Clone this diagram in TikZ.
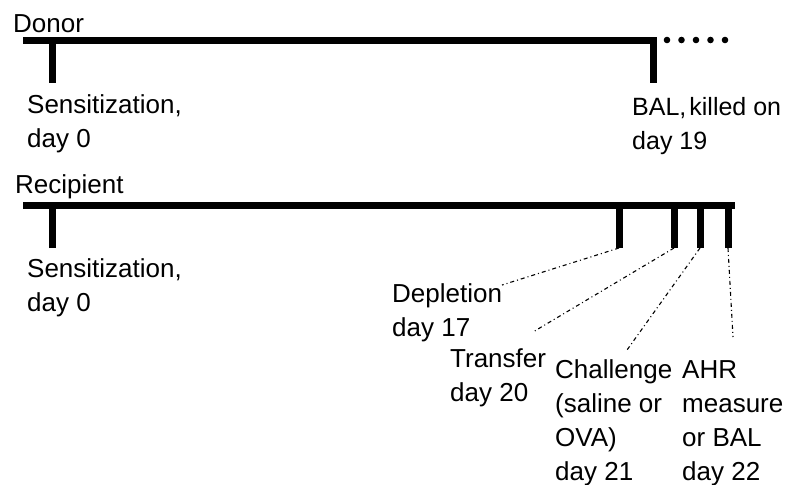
\documentclass[tikz,border=0pt]{standalone}
\usepackage{fontspec}
\setmainfont{Liberation Sans}
\usetikzlibrary{positioning}

\begin{document}
\begin{tikzpicture}[x=1pt,y=-1pt,
    timeline/.style={line width=7pt},
    tickline/.style={line width=7pt},
    txt/.style={anchor=base west, inner sep=0pt, align=left,
      font=\fontsize{26}{34}\selectfont},
    leader/.style={line width=1.1pt, dash pattern=on 4pt off 3pt on 1pt off 3pt}]
  \useasboundingbox (0,0) rectangle (788,485);

  % Donor (text nodes placed at the baseline of their last line)
  \node[txt] (donor) at (13,32) {Donor};
  \coordinate (d0) at (52,40);
  \coordinate (d19) at (653,40);
  \draw[timeline] (23,40) -- (656.5,40);
  \draw[tickline] (d0) -- (52,83);
  \draw[tickline] (d19) -- (653,83);
  \foreach \x in {667,681.5,696,710.5,725}
    \fill (\x,40) circle (3.3pt);
  \node[txt] (dsens) at (27,147) {Sensitization,\\day 0};
  \node[txt, font=\fontsize{25}{34}\selectfont] (dbal) at (632,149)
    {BAL,\hspace{3pt}killed on\\day 19};

  % Recipient
  \node[txt] (recip) at (15,193) {Recipient};
  \draw[timeline] (23,205) -- (735,205);
  \coordinate (r0) at (52,248);
  \coordinate (r17) at (619,248);
  \coordinate (r20) at (674,248);
  \coordinate (r21) at (700,248);
  \coordinate (r22) at (728,248);
  \foreach \c in {r0,r17,r20,r21,r22}
    \draw[tickline] (\c) -- (\c |- 0,205);
  \node[txt] (rsens) at (27,311) {Sensitization,\\day 0};

  % Recipient events
  \node[txt] (depl) at (392,336) {Depletion\\day 17};
  \node[txt] (trans) at (450,401) {Transfer\\day 20};
  \node[txt] (chal) at (555,480) {Challenge\\(saline or\\OVA)\\day 21};
  \node[txt] (ahr) at (682,480) {AHR\\measure\\or BAL\\day 22};
  \coordinate (e17) at (502,285);
  \coordinate (e20) at (533,332);
  \coordinate (e21) at (627,350);
  \coordinate (e22) at (733,337);
  \draw[leader] (r17) -- (e17);
  \draw[leader] (r20) -- (e20);
  \draw[leader] (r21) -- (e21);
  \draw[leader] (r22) -- (e22);
\end{tikzpicture}
\end{document}
